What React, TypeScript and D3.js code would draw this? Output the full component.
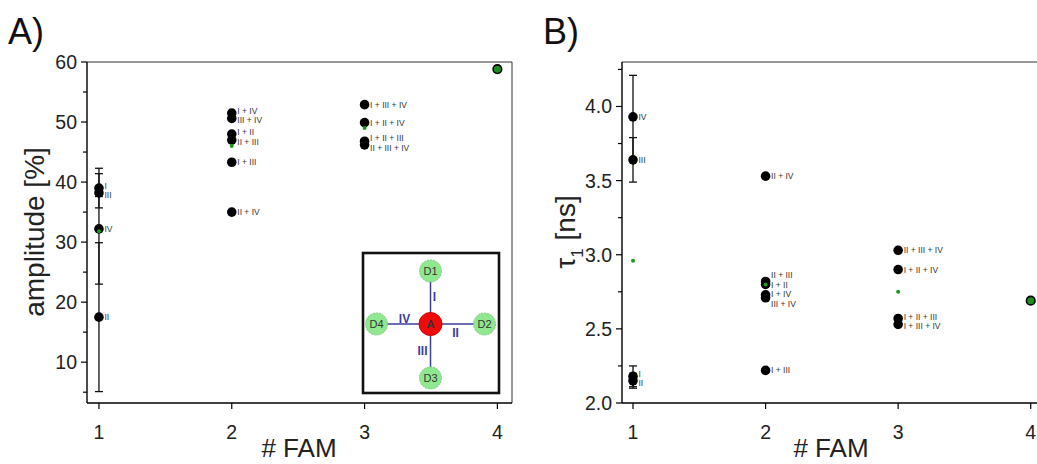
import React from 'react';
import * as d3 from 'd3';

// ---------------- data ----------------
const famCounts = [1, 2, 3, 4];

// Panel A: amplitude [%]
const ampFam1 = [
  { label: 'I', value: 39.0, err: 3.3 },
  { label: 'III', value: 38.2, err: 0.6 },
  { label: 'IV', value: 32.2, err: 9.2 },
  { label: 'II', value: 17.5, err: 12.4 },
];
const ampFam2 = [
  { label: 'I + IV', value: 51.5 },
  { label: 'III + IV', value: 50.6 },
  { label: 'I + II', value: 48.0 },
  { label: 'II + III', value: 47.0 },
  { label: 'I + III', value: 43.3 },
  { label: 'II + IV', value: 35.0 },
];
const ampFam3 = [
  { label: 'I + III + IV', value: 52.9 },
  { label: 'I + II + IV', value: 49.9 },
  { label: 'I + II + III', value: 46.8 },
  { label: 'II + III + IV', value: 46.2 },
];
const ampFam4 = [58.8];
const ampMeans = [31.8, 46.0, 49.0];
const ampMajorTicks = [10, 20, 30, 40, 50, 60];
const ampMinorTicks = [5, 15, 25, 35, 45, 55];

// Panel B: tau1 [ns]
const tauFam1 = [
  { label: 'IV', value: 3.93, err: 0.28 },
  { label: 'III', value: 3.64, err: 0.15 },
  { label: 'I', value: 2.18, err: 0.07 },
  { label: 'II', value: 2.15, err: 0.05 },
];
const tauFam2 = [
  { label: 'II + IV', value: 3.53 },
  { label: 'II + III', value: 2.82 },
  { label: 'I + II', value: 2.80 },
  { label: 'I + IV', value: 2.73 },
  { label: 'III + IV', value: 2.71 },
  { label: 'I + III', value: 2.22 },
];
const tauFam3 = [
  { label: 'II + III + IV', value: 3.03 },
  { label: 'I + II + IV', value: 2.90 },
  { label: 'I + II + III', value: 2.57 },
  { label: 'I + III + IV', value: 2.53 },
];
const tauFam4 = [2.69];
const tauMeans = [2.96, 2.80, 2.75];
const tauMajorTicks = [2.0, 2.5, 3.0, 3.5, 4.0];
const tauMinorTicks = [2.25, 2.75, 3.25, 3.75, 4.25];

// Inset schematic
const insetDonors = ['D1', 'D2', 'D3', 'D4'];
const insetLinks = ['I', 'II', 'III', 'IV'];

// ---------------- helpers ----------------
const FONT = "'Liberation Sans', Arial, Helvetica, sans-serif";

type Pt = { label: string; value: number; err?: number };

function placeLabels(targets: number[], spacing: number): number[] {
  const order = targets.map((t, i) => i).sort((a, b) => targets[a] - targets[b]);
  let groups = order.map((i) => [i]);
  const pos = (g: number[]) => {
    const c = d3.mean(g, (i) => targets[i]) as number;
    return g.map((_, k) => c + (k - (g.length - 1) / 2) * spacing);
  };
  let merged = true;
  while (merged) {
    merged = false;
    for (let k = 0; k < groups.length - 1; k++) {
      const a = pos(groups[k]);
      const b = pos(groups[k + 1]);
      if (a[a.length - 1] + spacing > b[0] + 0.01) {
        groups.splice(k, 2, groups[k].concat(groups[k + 1]));
        merged = true;
        break;
      }
    }
  }
  const out = new Array(targets.length).fill(0);
  groups.forEach((g) => {
    const p = pos(g);
    g.forEach((i, k) => (out[i] = p[k]));
  });
  return out;
}

type PanelProps = {
  x: d3.ScaleLinear<number, number>;
  y: d3.ScaleLinear<number, number>;
  groups: Pt[][];
  single: number[];
  means: number[];
  major: number[];
  minor: number[];
  fmt: (v: number) => string;
};

function Panel({ x, y, groups, single, means, major, minor, fmt }: PanelProps) {
  const [x0, x1] = x.range();
  const [y0, y1] = y.range(); // y0 bottom, y1 top
  return (
    <g>
      {/* frame */}
      <line x1={x0} x2={x1} y1={y1} y2={y1} stroke="#333" strokeWidth={1} />
      <line x1={x1} x2={x1} y1={y1} y2={y0} stroke="#333" strokeWidth={1} />
      <line x1={x0} x2={x1} y1={y0} y2={y0} stroke="#000" strokeWidth={1.4} />
      <line x1={x0} x2={x0} y1={y1} y2={y0} stroke="#000" strokeWidth={1.4} />
      {/* y ticks */}
      {major.map((t) => (
        <g key={'M' + t}>
          <line x1={x0 - 6} x2={x0} y1={y(t)} y2={y(t)} stroke="#000" strokeWidth={1.2} />
          <text x={x0 - 10} y={y(t)} dy="0.36em" textAnchor="end" fontSize={19.5} fontFamily={FONT} fill="#222">
            {fmt(t)}
          </text>
        </g>
      ))}
      {minor.map((t) => (
        <line key={'m' + t} x1={x0 - 4} x2={x0} y1={y(t)} y2={y(t)} stroke="#000" strokeWidth={1.2} />
      ))}
      {/* x ticks */}
      {famCounts.map((f) => (
        <g key={'x' + f}>
          <line x1={x(f)} x2={x(f)} y1={y0} y2={y0 + 6} stroke="#000" strokeWidth={1.2} />
          <text x={x(f)} y={y0 + 36} textAnchor="middle" fontSize={19.5} fontFamily={FONT} fill="#222">
            {f}
          </text>
        </g>
      ))}
      {/* error bars */}
      {groups.map((g, gi) =>
        g
          .filter((p) => p.err !== undefined)
          .map((p, i) => {
            const cx = x(famCounts[gi]);
            const lo = y(p.value - (p.err as number));
            const hi = y(p.value + (p.err as number));
            return (
              <g key={'e' + gi + '-' + i} stroke="#111" strokeWidth={1.3}>
                <line x1={cx} x2={cx} y1={lo} y2={hi} />
                <line x1={cx - 4} x2={cx + 4} y1={lo} y2={lo} />
                <line x1={cx - 4} x2={cx + 4} y1={hi} y2={hi} />
              </g>
            );
          })
      )}
      {/* points + labels */}
      {groups.map((g, gi) => {
        const cx = x(famCounts[gi]);
        const ly = placeLabels(g.map((p) => y(p.value)), 9.5);
        return (
          <g key={'p' + gi}>
            {g.map((p, i) => (
              <circle key={'c' + i} cx={cx} cy={y(p.value)} r={4.8} fill="#000" />
            ))}
            <g opacity={0.99}>
              {g.map((p, i) => (
                <text
                  key={'t' + i}
                  x={cx + 5.5}
                  y={ly[i]}
                  dy="0.35em"
                  fontSize={8.5}
                  fontFamily={FONT}
                  fill="#333"
                >
                  {p.label}
                </text>
              ))}
            </g>
          </g>
        );
      })}
      {/* four-donor point */}
      {single.map((v, i) => (
        <circle key={'s' + i} cx={x(famCounts[3])} cy={y(v)} r={4.3} fill="#1e8c1e" stroke="#000" strokeWidth={1.6} />
      ))}
      {/* means */}
      {means.map((v, i) => (
        <circle key={'mean' + i} cx={x(famCounts[i])} cy={y(v)} r={2} fill="#1a9a1a" />
      ))}
    </g>
  );
}

function Inset() {
  const left = 363, top = 253, w = 136, h = 140;
  const cx = left + w / 2 - 0.5;
  const cy = top + h / 2 + 1;
  const d = 54;
  const donorPos = [
    [cx, cy - d + 1],
    [cx + d, cy],
    [cx, cy + d],
    [cx - d, cy],
  ];
  const linkPos = [
    [cx + 4, cy - 27],
    [cx + 25, cy + 9],
    [cx - 8, cy + 27],
    [cx - 26, cy - 5],
  ];
  const blue = '#3d3d9e';
  return (
    <g>
      <rect x={left} y={top} width={w} height={h} fill="#fff" stroke="#111" strokeWidth={2.6} />
      {donorPos.map((p, i) => (
        <line key={'l' + i} x1={cx} y1={cy} x2={p[0]} y2={p[1]} stroke={blue} strokeWidth={1.5} />
      ))}
      {donorPos.map((p, i) => (
        <g key={'d' + i}>
          <circle cx={p[0]} cy={p[1]} r={11} fill="#8fe88f" stroke="#7ccf7c" strokeWidth={1} strokeDasharray="2 1" />
          <text x={p[0]} y={p[1]} dy="0.36em" textAnchor="middle" fontSize={11} fontFamily={FONT} fill="#333">
            {insetDonors[i]}
          </text>
        </g>
      ))}
      <circle cx={cx} cy={cy} r={11.5} fill="#ee0b0b" stroke="#d00" strokeWidth={1} />
      <text x={cx} y={cy} dy="0.36em" textAnchor="middle" fontSize={11} fontWeight="bold" fontFamily={FONT} fill="#333">
        A
      </text>
      {linkPos.map((p, i) => (
        <text
          key={'k' + i}
          x={p[0]}
          y={p[1]}
          dy="0.36em"
          textAnchor="middle"
          fontSize={12}
          fontWeight="bold"
          fontFamily={FONT}
          fill={blue}
        >
          {insetLinks[i]}
        </text>
      ))}
    </g>
  );
}

export default function App() {
  const xA = d3.scaleLinear().domain([0.91, 4.11]).range([87, 512]);
  const yA = d3.scaleLinear().domain([3.2, 60]).range([403, 62]);
  const xB = d3.scaleLinear().domain([0.917, 4.07]).range([622, 1040]);
  const yB = d3.scaleLinear().domain([2.0, 4.3]).range([403, 62]);

  return (
    <svg
      width={1037}
      height={464}
      viewBox="0 0 1037 464"
      style={{ position: 'absolute', left: 0, top: 0, background: '#fff' }}
    >
      <rect x={0} y={0} width={1037} height={464} fill="#fff" />
      <text x={8} y={44} fontSize={36} fontFamily={FONT} fill="#111">A)</text>
      <text x={543} y={44} fontSize={36} fontFamily={FONT} fill="#111">B)</text>

      <Panel
        x={xA}
        y={yA}
        groups={[ampFam1, ampFam2, ampFam3]}
        single={ampFam4}
        means={ampMeans}
        major={ampMajorTicks}
        minor={ampMinorTicks}
        fmt={(v) => d3.format('d')(v)}
      />
      <Inset />
      <Panel
        x={xB}
        y={yB}
        groups={[tauFam1, tauFam2, tauFam3]}
        single={tauFam4}
        means={tauMeans}
        major={tauMajorTicks}
        minor={tauMinorTicks}
        fmt={(v) => d3.format('.1f')(v)}
      />

      {/* axis titles */}
      <text x={299} y={457} textAnchor="middle" fontSize={26} fontFamily={FONT} fill="#222"># FAM</text>
      <text x={831} y={457} textAnchor="middle" fontSize={26} fontFamily={FONT} fill="#222"># FAM</text>
      <text
        transform="translate(44,232) rotate(-90)"
        textAnchor="middle"
        fontSize={28}
        fontFamily={FONT}
        fill="#222"
      >
        amplitude [%]
      </text>
      <text
        transform="translate(575,232) rotate(-90)"
        textAnchor="middle"
        fontSize={28}
        fontFamily={FONT}
        fill="#222"
      >
        τ<tspan fontSize={17} dy={8}>1</tspan>
        <tspan dy={-8}> [ns]</tspan>
      </text>
    </svg>
  );
}
